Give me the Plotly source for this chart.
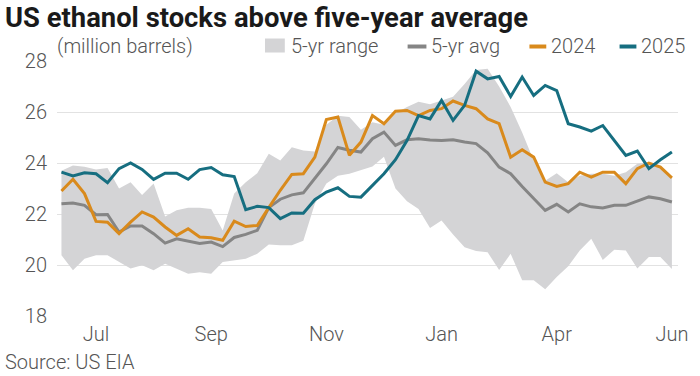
import plotly.graph_objects as go
import pandas as pd

# ---- data (million barrels), weekly from mid-June to mid-June ----
week_start = "2024-06-14"
n_weeks = 54
weeks = pd.date_range(week_start, periods=n_weeks, freq="7D")

range_max = [23.7, 23.9, 23.85, 23.75, 23.8, 23.0, 23.25, 22.75, 23.2, 21.9,
             22.15, 22.25, 22.25, 22.2, 21.35, 22.8, 23.25, 23.6, 24.36, 24.1,
             24.62, 24.49, 24.45, 25.5, 25.85, 25.8, 25.3, 25.6, 25.5, 25.95,
             26.2, 26.4, 26.3, 26.45, 26.6, 27.1, 27.65, 27.7, 27.0, 26.2,
             25.2, 24.1, 23.3, 23.6, 23.25, 23.5, 23.58, 23.58, 23.5, 23.64,
             23.97, 24.03, 23.9, 23.45]
range_min = [20.38, 19.79, 20.25, 20.38, 20.38, 20.12, 19.86, 19.99, 19.79, 20.05,
             19.86, 19.66, 19.72, 19.66, 20.12, 20.18, 20.25, 20.44, 20.8, 20.77,
             20.77, 20.95, 22.4, 23.2, 23.5, 23.58, 23.72, 23.86, 24.25, 23.0,
             22.5, 22.2, 21.45, 21.75, 21.2, 20.7, 20.55, 20.5, 19.8, 20.44,
             19.4, 19.4, 19.05, 19.53, 19.95, 20.57, 21.03, 20.2, 20.6, 20.57,
             19.86, 20.31, 20.31, 19.84]
avg_5yr = [22.40, 22.43, 22.34, 21.97, 21.98, 21.29, 21.53, 21.53, 21.23, 20.86,
           21.03, 20.94, 20.84, 20.90, 20.72, 21.08, 21.20, 21.36, 22.25, 22.58,
           22.75, 22.83, 23.40, 23.97, 24.61, 24.50, 24.43, 24.95, 25.21, 24.69,
           24.91, 24.95, 24.90, 24.88, 24.91, 24.82, 24.76, 24.40, 23.84, 23.58,
           23.08, 22.63, 22.14, 22.38, 22.08, 22.40, 22.28, 22.24, 22.34, 22.34,
           22.50, 22.67, 22.60, 22.47]
stocks_2024 = [22.9, 23.36, 22.8, 21.71, 21.68, 21.23, 21.68, 22.08, 21.88, 21.49,
               21.16, 21.42, 21.1, 21.07, 20.97, 21.72, 21.51, 21.55, 22.25, 22.93,
               23.55, 23.58, 24.23, 25.7, 25.8, 24.3, 24.82, 25.86, 25.54, 26.03,
               26.06, 25.86, 26.06, 26.13, 26.43, 26.26, 26.13, 25.73, 25.54, 24.23,
               24.52, 24.23, 23.25, 23.08, 23.19, 23.64, 23.45, 23.64, 23.64, 23.19,
               23.78, 24.0, 23.84, 23.42]
stocks_2025 = [23.64, 23.49, 23.62, 23.58, 23.23, 23.78, 24.0, 23.75, 23.36, 23.6,
               23.6, 23.36, 23.74, 23.82, 23.54, 23.47, 22.17, 22.3, 22.25, 21.82,
               22.04, 22.03, 22.56, 22.86, 23.03, 22.69, 22.66, 23.12, 23.58, 24.13,
               24.88, 25.86, 25.73, 26.45, 25.67, 26.26, 27.6, 27.3, 27.39, 26.61,
               27.37, 26.65, 27.04, 26.84, 25.54, 25.41, 25.25, 25.47, 24.88, 24.3,
               24.47, 23.78, 24.13, 24.43]

tick_dates = ["2024-07-05", "2024-09-13", "2024-11-22", "2025-01-31", "2025-04-11", "2025-06-20"]
tick_labels = ["Jul", "Sep", "Nov", "Jan", "Apr", "Jun"]
y_ticks = [18, 20, 22, 24, 26, 28]

# ---- style ----
C_BAND = "#d4d4d6"
C_AVG = "#858585"
C_2024 = "#d98a1c"
C_2025 = "#166e80"
FONT = "Roboto"
TXT = "#555555"
FS = 20

W, H = 700, 376
L, R, T, B = 57, 16, 60.5, 60.3
pw, ph = W - L - R, H - T - B

def px(x):
    return (x - L) / pw

def py(y):
    return (H - B - y) / ph

fig = go.Figure()
fig.add_trace(go.Scatter(x=weeks, y=range_max, mode="lines", line=dict(width=0, color=C_BAND),
                         hoverinfo="skip", showlegend=False))
fig.add_trace(go.Scatter(x=weeks, y=range_min, mode="lines", line=dict(width=0, color=C_BAND),
                         fill="tonexty", fillcolor=C_BAND, name="5-yr range", showlegend=False))
fig.add_trace(go.Scatter(x=weeks, y=avg_5yr, mode="lines", line=dict(width=3, color=C_AVG),
                         name="5-yr avg", showlegend=False))
fig.add_trace(go.Scatter(x=weeks, y=stocks_2024, mode="lines", line=dict(width=3, color=C_2024),
                         name="2024", showlegend=False))
fig.add_trace(go.Scatter(x=weeks, y=stocks_2025, mode="lines", line=dict(width=3, color=C_2025),
                         name="2025", showlegend=False))

def note(text, x, y, size, color, weight="normal"):
    return dict(text=text, xref="paper", yref="paper", x=px(x), y=py(y),
                xanchor="left", yanchor="middle", showarrow=False,
                font=dict(family=FONT, size=size, color=color, weight=weight))

annotations = [
    note("US ethanol stocks above five-year average", 2, 17, 27.4, "#1a1a1a", "bold"),
    note("(million barrels)", 55, 45, FS, TXT, 300),
    note("Source: US EIA", 2, 362, FS, TXT, 300),
]
legend_items = [
    ("5-yr range", 291),
    ("5-yr avg", 433),
    ("2024", 554),
    ("2025", 645),
]
for label, x0 in legend_items:
    annotations.append(note(label, x0, 45, FS, TXT, 300))

shapes = [
    dict(type="rect", xref="paper", yref="paper", x0=px(267), x1=px(287), y0=py(52), y1=py(38),
         fillcolor=C_BAND, line=dict(width=0)),
    dict(type="line", xref="paper", yref="paper", x0=px(411), x1=px(430), y0=py(46), y1=py(46),
         line=dict(color=C_AVG, width=4)),
    dict(type="line", xref="paper", yref="paper", x0=px(534), x1=px(551), y0=py(46), y1=py(46),
         line=dict(color=C_2024, width=4)),
    dict(type="line", xref="paper", yref="paper", x0=px(625), x1=px(642), y0=py(46), y1=py(46),
         line=dict(color=C_2025, width=4)),
]

fig.update_layout(
    width=W, height=H,
    margin=dict(l=L, r=R, t=T, b=B, pad=0),
    paper_bgcolor="white", plot_bgcolor="white",
    showlegend=False,
    annotations=annotations,
    shapes=shapes,
    xaxis=dict(type="date", range=["2024-06-11 07:00", "2025-06-23 17:00"],
               tickvals=tick_dates, ticktext=tick_labels, showgrid=False, zeroline=False,
               showline=False, ticks="", tickfont=dict(family=FONT, size=FS, color=TXT, weight=300),
               ticklabelstandoff=4),
    yaxis=dict(range=[18, 28], tickvals=y_ticks, showgrid=True, gridcolor="#e2e2e2", gridwidth=1,
               zeroline=False, showline=False, ticks="",
               tickfont=dict(family=FONT, size=FS, color=TXT, weight=300), ticklabelstandoff=9),
)

fig.write_html("out.html", config={"displayModeBar": False},
               post_script="document.body.style.margin='0';document.body.style.overflow='hidden';")
